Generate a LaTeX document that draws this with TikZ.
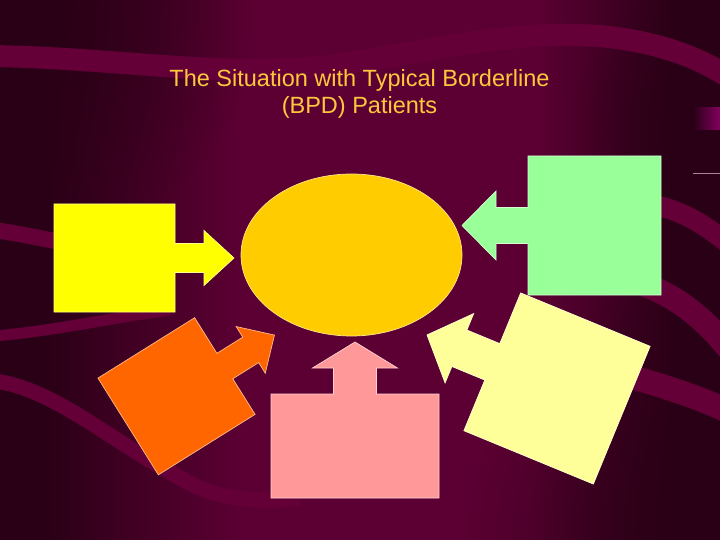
\documentclass[tikz,border=0pt]{standalone}
\usepackage{fontspec}
\setmainfont{Liberation Sans}
\usetikzlibrary{shapes.geometric,fadings}
\definecolor{bgdark}{HTML}{2A0016}
\definecolor{bgmid}{HTML}{5C0033}
\definecolor{bandc}{HTML}{640037}
\definecolor{titlec}{HTML}{FFC83C}
\definecolor{cyellow}{HTML}{FFFF00}
\definecolor{ccore}{HTML}{FFCC00}
\definecolor{cgreen}{HTML}{99FF99}
\definecolor{corange}{HTML}{FF6600}
\definecolor{cpink}{HTML}{FF9999}
\definecolor{clight}{HTML}{FFFF99}
\pgfdeclarehorizontalshading{bgshade}{100bp}{color(0bp)=(bgdark); color(28bp)=(bgdark); color(42bp)=(bgmid); color(62bp)=(bgmid); color(72bp)=(bgdark); color(100bp)=(bgdark)}
\tikzfading[name=darkfade, inner color=transparent!0, outer color=transparent!100]
\tikzset{
  pics/abox/.style n args={6}{code={
    \path[pic actions] (-#1,-#2) -- (#1,-#2) -- (#1,-#3) -- (#4,-#3) -- (#4,-#5)
      -- (#6,0) -- (#4,#5) -- (#4,#3) -- (#1,#3) -- (#1,#2) -- (-#1,#2) -- cycle;
  }},
  shapebox/.style={fill=#1, draw=#1!45!white, line width=0.7pt, line join=miter},
  swoosh/.style={draw=bandc, line width=#1, line cap=butt},
  darkspot/.style={fill=bgdark, path fading=darkfade},
}
\begin{document}
\begin{tikzpicture}[x=1pt,y=-1pt]
\useasboundingbox (0,0) rectangle (720,540);
\shade[shading=bgshade] (0,0) rectangle (720,540);
\begin{scope}
\clip (0,0) rectangle (720,540);
\fill[darkspot] (0,0) circle (260pt);
\fill[darkspot] (720,540) circle (260pt);
\fill[darkspot] (720,130) circle (150pt);
\end{scope}
% background swooshes
\draw[swoosh=22pt] (-10,56) .. controls (120,58) and (220,78) .. (330,66) .. controls (430,52) and (500,30) .. (600,36) .. controls (660,42) and (700,58) .. (730,78);
\draw[swoosh=16pt] (-5,230) .. controls (20,234) and (40,238) .. (70,244);
\draw[swoosh=11pt] (-5,336) .. controls (60,330) and (110,318) .. (170,310);
\draw[swoosh=15pt] (-5,381) .. controls (60,390) and (120,450) .. (200,488) .. controls (230,500) and (260,502) .. (300,498);
\draw[swoosh=20pt] (655,205) .. controls (685,212) and (705,225) .. (730,245);
\draw[swoosh=24pt] (645,285) .. controls (680,298) and (705,320) .. (730,350);
\draw[swoosh=24pt] (635,378) .. controls (670,388) and (700,398) .. (730,412);
\shade[left color=bgdark, right color=bandc!80!magenta] (693,108) rectangle (720,130);
\draw[color=bandc!50!white, line width=0.8pt] (693,173) -- (720,173);
% title
\node[font=\fontsize{23.5}{27}\selectfont, text=titlec, align=center, inner sep=0pt, anchor=base] (title) at (359.5,114) {The Situation with Typical Borderline\\(BPD) Patients};
% centre ellipse
\node[ellipse, shapebox=ccore, minimum width=221pt, minimum height=162pt, inner sep=0pt] (core) at (351.5,255) {};
% arrow boxes
\pic[shapebox=cyellow] (yellowbox) at (114.5,258) {abox={60.5}{54}{14.5}{89.5}{27.5}{119.5}};
\pic[shapebox=cgreen, rotate=180] (greenbox) at (594.5,225.5) {abox={66.5}{69.5}{18}{98.5}{34.5}{132.5}};
\pic[shapebox=cpink, rotate=90] (pinkbox) at (355,446) {abox={52}{84}{21.5}{78}{42.5}{104}};
\pic[shapebox=corange, rotate=32] (orangebox) at (176.5,396.25) {abox={57}{57}{15}{87.5}{27.5}{115.5}};
\pic[shapebox=clight, rotate=157.6] (lightbox) at (557,388.5) {abox={70}{74.5}{19.7}{105.6}{37.5}{140.6}};
\end{tikzpicture}
\end{document}
